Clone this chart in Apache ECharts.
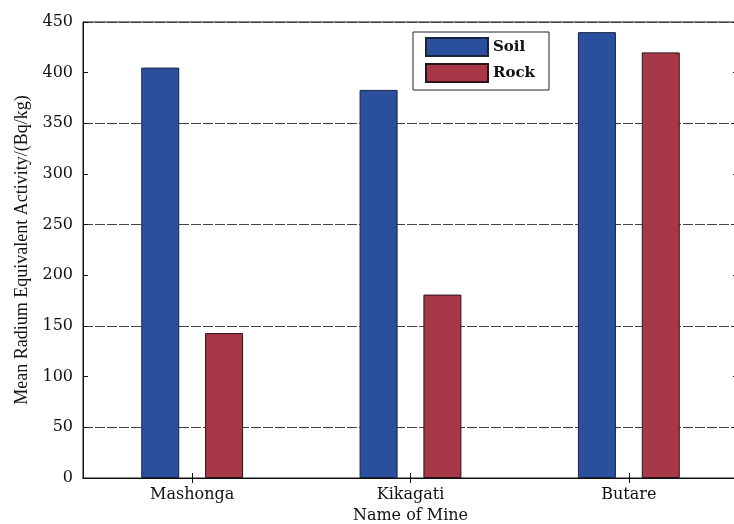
<!DOCTYPE html>
<html>
<head>
<meta charset="utf-8">
<script src="https://cdn.jsdelivr.net/npm/echarts@6/dist/echarts.min.js"></script>
<style>
  html, body { margin: 0; padding: 0; background: #fff; overflow: hidden; }
  #chart { width: 734px; height: 524px; }
</style>
</head>
<body>
<div id="chart"></div>
<script>
// Mean radium equivalent activity per mine, soil vs rock samples
const mines = ['Mashonga', 'Kikagati', 'Butare'];
const soilValues = [405, 383, 440];
const rockValues = [143, 181, 420];
const yTicks = { min: 0, max: 450, step: 50 };

const serif = '"DejaVu Serif", "Liberation Serif", serif';
const titleSerif = '"Liberation Serif", "DejaVu Serif", serif';

const chart = echarts.init(document.getElementById('chart'), null, { renderer: 'canvas' });

const tickStyle = { show: true, inside: true, length: 5, lineStyle: { color: '#111' } };

chart.setOption({
  animation: false,
  backgroundColor: '#ffffff',
  grid: {
    left: 83, top: 22, width: 655, height: 456,
    outerBoundsMode: 'none',
    containLabel: false,
    show: true, borderColor: '#111', borderWidth: 1, backgroundColor: 'transparent'
  },
  legend: {
    data: ['Soil', 'Rock'],
    orient: 'vertical',
    left: 413, top: 32,
    itemWidth: 62, itemHeight: 18, itemGap: 6,
    padding: [5, 14, 7, 12],
    borderColor: '#222', borderWidth: 1,
    icon: 'rect',
    textStyle: { fontFamily: serif, fontSize: 15, fontWeight: 'bold', color: '#111' }
  },
  xAxis: [
    {
      type: 'category',
      data: mines,
      position: 'bottom',
      name: 'Name of Mine',
      nameLocation: 'middle',
      nameGap: 30,
      nameTextStyle: { fontFamily: serif, fontSize: 16, color: '#111' },
      axisLine: { lineStyle: { color: '#111' } },
      axisTick: Object.assign({ alignWithLabel: true }, tickStyle),
      axisLabel: { fontFamily: serif, fontSize: 16, color: '#111', margin: 9 },
      splitLine: { show: false }
    },
    {
      type: 'category',
      data: mines,
      position: 'top',
      axisLine: { lineStyle: { color: '#111' } },
      axisTick: Object.assign({ alignWithLabel: true }, tickStyle),
      axisLabel: { show: false },
      splitLine: { show: false }
    }
  ],
  yAxis: [
    {
      type: 'value',
      position: 'left',
      min: yTicks.min, max: yTicks.max, interval: yTicks.step,
      name: 'Mean Radium Equivalent Activity/(Bq/kg)',
      nameLocation: 'middle',
      nameGap: 50,
      nameTextStyle: { fontFamily: titleSerif, fontSize: 18, color: '#111' },
      axisLine: { show: true, lineStyle: { color: '#111' } },
      axisTick: tickStyle,
      axisLabel: { fontFamily: serif, fontSize: 16, color: '#111', margin: 10 },
      splitLine: {
        show: true,
        // only every other tick level carries a grid line (50, 150, 250, 350)
        lineStyle: { color: ['rgba(0,0,0,0)', '#444'], width: 1, type: [10, 2] }
      }
    },
    {
      type: 'value',
      position: 'right',
      min: yTicks.min, max: yTicks.max, interval: yTicks.step,
      axisLine: { show: true, lineStyle: { color: '#111' } },
      axisTick: tickStyle,
      axisLabel: { show: false },
      splitLine: { show: false }
    }
  ],
  series: [
    {
      name: 'Soil', type: 'bar', data: soilValues,
      barWidth: 38, barGap: '68%', z: 3,
      itemStyle: { color: '#2a4f9c', borderColor: '#1a2240', borderWidth: 1 }
    },
    {
      name: 'Rock', type: 'bar', data: rockValues,
      barWidth: 38, barGap: '68%', z: 3,
      itemStyle: { color: '#a63848', borderColor: '#2a1418', borderWidth: 1 }
    }
  ]
});
</script>
</body>
</html>
